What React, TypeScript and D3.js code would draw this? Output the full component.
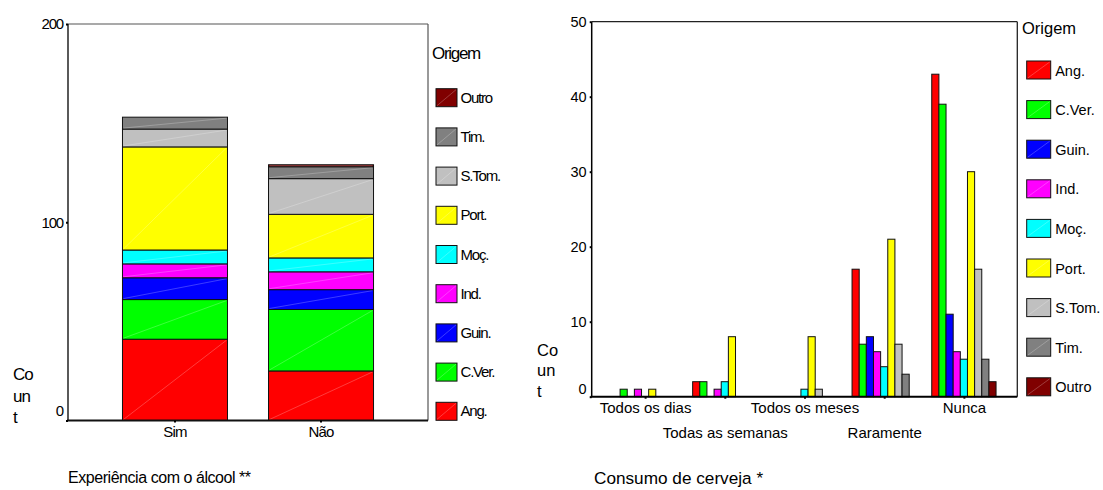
import * as d3 from 'd3';
import { useEffect, useRef } from 'react';

// origins and their SPSS colours
const origins = ['Ang.', 'C.Ver.', 'Guin.', 'Ind.', 'Moç.', 'Port.', 'S.Tom.', 'Tim.', 'Outro'];
const originColors = ['#ff0000', '#00ff00', '#0000ff', '#ff00ff', '#00ffff', '#ffff00', '#c0c0c0', '#808080', '#800000'];

// left chart: Experiência com o álcool (stacked)
const alcoholCats = ['Sim', 'Não'];
const alcoholSim = [41, 20, 11, 7, 7, 52, 9, 6, 0];
const alcoholNao = [25, 31, 10, 9, 7, 22, 18, 6, 1];
const alcoholTicks = [0, 100, 200];

// right chart: Consumo de cerveja (clustered)
const beerCats = ['Todos os dias', 'Todas as semanas', 'Todos os meses', 'Raramente', 'Nunca'];
const beerDias = [0, 1, 0, 1, 0, 1, 0, 0, 0];
const beerSemanas = [2, 2, 0, 1, 2, 8, 0, 0, 0];
const beerMeses = [0, 0, 0, 0, 1, 8, 1, 0, 0];
const beerRaramente = [17, 7, 8, 6, 4, 21, 7, 3, 0];
const beerNunca = [43, 39, 11, 6, 5, 30, 17, 5, 2];
const beerTicks = [0, 10, 20, 30, 40, 50];

const FONT = '"Liberation Sans", Arial, sans-serif';

export default function App() {
  const svgRef = useRef<SVGSVGElement>(null);

  useEffect(() => {
    if (!svgRef.current) return;
    const svg = d3.select(svgRef.current);
    svg.selectAll('*').remove();
    svg.style('font-family', FONT);

    // ---------- left chart ----------
    const L = { left: 68, right: 428, top: 24, bottom: 420.5 };
    const yL = d3.scaleLinear().domain([0, 200]).range([L.bottom, L.top]);
    const xL = d3
      .scaleBand()
      .domain(alcoholCats)
      .range([L.left, L.right])
      .paddingInner(0.281)
      .paddingOuter(0.373);

    const rows = alcoholCats.map((c, i) => {
      const vals = i === 0 ? alcoholSim : alcoholNao;
      const row: Record<string, any> = { cat: c };
      origins.forEach((o, j) => (row[o] = vals[j]));
      return row;
    });
    const series = d3.stack<any>().keys(origins)(rows);

    const left = svg.append('g');

    series.forEach((s, j) => {
      s.forEach((d) => {
        if (d[1] - d[0] <= 0) return;
        const x = xL(d.data.cat) ?? 0;
        const w = xL.bandwidth();
        const y0 = yL(d[0]);
        const y1 = yL(d[1]);
        left
          .append('rect')
          .attr('x', x)
          .attr('y', y1)
          .attr('width', w)
          .attr('height', y0 - y1)
          .attr('fill', originColors[j])
          .attr('stroke', '#111')
          .attr('stroke-width', 1);
        left
          .append('line')
          .attr('x1', x + 1)
          .attr('y1', y0 - 1)
          .attr('x2', x + w - 1)
          .attr('y2', y1 + 1)
          .attr('stroke', '#fff')
          .attr('stroke-opacity', 0.4)
          .attr('stroke-width', 0.6);
      });
    });

    // frame
    left.append('line').attr('x1', L.left).attr('x2', L.right).attr('y1', L.top).attr('y2', L.top)
      .attr('stroke', '#555').attr('stroke-width', 1.2);
    left.append('line').attr('x1', L.right).attr('x2', L.right).attr('y1', L.top).attr('y2', L.bottom)
      .attr('stroke', '#555').attr('stroke-width', 1.2);
    left.append('line').attr('x1', L.left).attr('x2', L.left).attr('y1', L.top).attr('y2', L.bottom)
      .attr('stroke', '#000').attr('stroke-width', 1.3);
    left.append('line').attr('x1', L.left - 1).attr('x2', L.right).attr('y1', L.bottom).attr('y2', L.bottom)
      .attr('stroke', '#111').attr('stroke-width', 2);

    const yAxisL = left
      .append('g')
      .attr('transform', `translate(${L.left},0)`)
      .call(d3.axisLeft(yL).tickValues(alcoholTicks).tickSize(2).tickPadding(3).tickFormat(d3.format('d')));
    yAxisL.select('.domain').remove();
    yAxisL.selectAll('.tick line').attr('stroke', '#000').attr('stroke-width', 2);
    yAxisL
      .selectAll<SVGTextElement, number>('.tick text')
      .style('font-size', '15px')
      .style('letter-spacing', '-1.2px')
      .attr('fill', '#000')
      .attr('y', (d) => (d === 0 ? -10 : 0));

    const xAxisL = left
      .append('g')
      .attr('transform', `translate(0,${L.bottom})`)
      .call(d3.axisBottom(xL).tickSize(2).tickPadding(4));
    xAxisL.select('.domain').remove();
    xAxisL.selectAll('.tick line').attr('stroke', '#000').attr('stroke-width', 2);
    xAxisL.selectAll('.tick text').style('font-size', '15px').style('letter-spacing', '-0.8px').attr('fill', '#000');

    // y title Co/un/t
    ['Co', 'un', 't'].forEach((t, i) => {
      left.append('text').attr('x', 13).attr('y', 380 + i * 21.5).text(t)
        .style('font-size', '17px').style('letter-spacing', '-1px');
    });

    left.append('text').attr('x', 68).attr('y', 483).text('Experiência com o álcool **')
      .style('font-size', '16px').style('letter-spacing', '-0.45px');

    // legend (reversed)
    left.append('text').attr('x', 432).attr('y', 59).text('Origem')
      .style('font-size', '17px').style('letter-spacing', '-1.3px');
    const legL = [...origins].reverse();
    legL.forEach((o, i) => {
      const j = origins.indexOf(o);
      const y = 88.7 + i * 39.2;
      const g = left.append('g').attr('transform', `translate(436,${y})`);
      g.append('rect').attr('width', 21).attr('height', 18).attr('fill', originColors[j])
        .attr('stroke', '#111').attr('stroke-width', 1);
      g.append('line').attr('x1', 1).attr('y1', 17).attr('x2', 20).attr('y2', 1)
        .attr('stroke', '#fff').attr('stroke-opacity', 0.4).attr('stroke-width', 0.6);
      g.append('text').attr('x', 24.5).attr('y', 14).text(o)
        .style('font-size', '15px').style('letter-spacing', '-1.2px');
    });

    // ---------- right chart ----------
    const R = { left: 591.7, right: 1017.3, top: 21.7, bottom: 396.7 };
    const yR = d3.scaleLinear().domain([0, 50]).range([R.bottom, R.top]);
    const xR = d3.scalePoint().domain(beerCats).range([R.left, R.right]).padding(0.67);
    const xInner = d3.scaleBand().domain(origins).range([-32.15, 32.15]);
    const beerValues = [beerDias, beerSemanas, beerMeses, beerRaramente, beerNunca];

    const right = svg.append('g');

    beerCats.forEach((c, i) => {
      origins.forEach((o, j) => {
        const v = beerValues[i][j];
        if (v <= 0) return;
        const x = (xR(c) ?? 0) + (xInner(o) ?? 0);
        right
          .append('rect')
          .attr('x', x)
          .attr('y', yR(v))
          .attr('width', xInner.bandwidth())
          .attr('height', R.bottom - yR(v))
          .attr('fill', originColors[j])
          .attr('stroke', '#111')
          .attr('stroke-width', 1);
      });
    });

    right.append('line').attr('x1', R.left).attr('x2', R.right).attr('y1', R.top).attr('y2', R.top)
      .attr('stroke', '#222').attr('stroke-width', 1.3);
    right.append('line').attr('x1', R.right).attr('x2', R.right).attr('y1', R.top).attr('y2', R.bottom)
      .attr('stroke', '#222').attr('stroke-width', 1.3);
    right.append('line').attr('x1', R.left).attr('x2', R.left).attr('y1', R.top).attr('y2', R.bottom)
      .attr('stroke', '#000').attr('stroke-width', 1.5);
    right.append('line').attr('x1', R.left - 1).attr('x2', R.right).attr('y1', R.bottom).attr('y2', R.bottom)
      .attr('stroke', '#000').attr('stroke-width', 2);

    const yAxisR = right
      .append('g')
      .attr('transform', `translate(${R.left},0)`)
      .call(d3.axisLeft(yR).tickValues(beerTicks).tickSize(2).tickPadding(3).tickFormat(d3.format('d')));
    yAxisR.select('.domain').remove();
    yAxisR.selectAll('.tick line').attr('stroke', '#000').attr('stroke-width', 2);
    yAxisR
      .selectAll<SVGTextElement, number>('.tick text')
      .style('font-size', '14.5px')
      .attr('fill', '#000')
      .attr('y', (d) => (d === 0 ? -8 : 0));

    const xAxisR = right
      .append('g')
      .attr('transform', `translate(0,${R.bottom})`)
      .call(d3.axisBottom(xR).tickSize(2).tickPadding(4));
    xAxisR.select('.domain').remove();
    xAxisR.selectAll('.tick line').attr('stroke', '#000').attr('stroke-width', 2);
    xAxisR
      .selectAll<SVGTextElement, string>('.tick text')
      .style('font-size', '15px')
      .attr('fill', '#000')
      .attr('y', (_d, i) => (i % 2 === 1 ? 31 : 6));

    ['Co', 'un', 't'].forEach((t, i) => {
      right.append('text').attr('x', 537).attr('y', 356 + i * 20.3).text(t).style('font-size', '16.5px');
    });

    right.append('text').attr('x', 594).attr('y', 484).text('Consumo de cerveja *').style('font-size', '17.2px');

    right.append('text').attr('x', 1022).attr('y', 33.5).text('Origem').style('font-size', '16.5px');
    origins.forEach((o, j) => {
      const y = 61 + j * 39.6;
      const g = right.append('g').attr('transform', `translate(1026.7,${y})`);
      g.append('rect').attr('width', 24).attr('height', 18).attr('fill', originColors[j])
        .attr('stroke', '#111').attr('stroke-width', 1);
      g.append('line').attr('x1', 1).attr('y1', 17).attr('x2', 23).attr('y2', 1)
        .attr('stroke', '#fff').attr('stroke-opacity', 0.4).attr('stroke-width', 0.6);
      g.append('text').attr('x', 28.5).attr('y', 14.5).text(o).style('font-size', '14.5px');
    });
  }, []);

  return (
    <svg
      ref={svgRef}
      width={1103}
      height={490}
      style={{ position: 'absolute', left: 0, top: 0, background: '#fff' }}
    />
  );
}
